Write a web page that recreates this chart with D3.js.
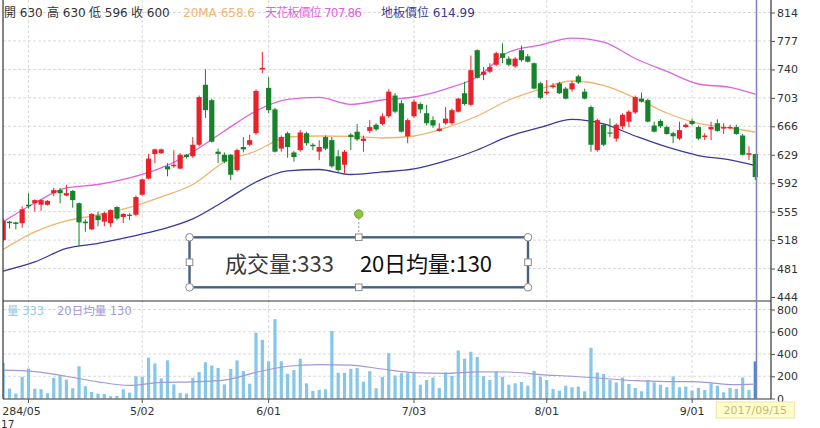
<!DOCTYPE html>
<html><head><meta charset="utf-8">
<script src="https://cdn.jsdelivr.net/npm/d3@7"></script>
<style>
body{margin:0;background:#fff;}
svg{display:block;font-family:"DejaVu Sans",Verdana,"Noto Sans CJK TC",sans-serif;}
</style>
</head><body>
<svg id="chart" width="820" height="428"></svg>
<script>
// ---------- DATA ----------
const dates = [
 "03/28","03/29","03/30","03/31",
 "04/05","04/06","04/07","04/10","04/11","04/12","04/13","04/14","04/17","04/18","04/19","04/20","04/21","04/24","04/25","04/26","04/27","04/28",
 "05/02","05/03","05/04","05/05","05/08","05/09","05/10","05/11","05/12","05/15","05/16","05/17","05/18","05/19","05/22","05/23","05/24","05/25","05/26","05/31",
 "06/01","06/02","06/03","06/05","06/06","06/07","06/08","06/09","06/12","06/13","06/14","06/15","06/16","06/19","06/20","06/21","06/22","06/23","06/26","06/27","06/28","06/29","06/30",
 "07/03","07/04","07/05","07/06","07/07","07/10","07/11","07/12","07/13","07/14","07/17","07/18","07/19","07/20","07/21","07/24","07/25","07/26","07/27","07/28","07/31",
 "08/01","08/02","08/03","08/04","08/07","08/08","08/09","08/10","08/11","08/14","08/15","08/16","08/17","08/18","08/21","08/22","08/23","08/24","08/25","08/28","08/29","08/30","08/31",
 "09/01","09/04","09/05","09/06","09/07","09/08","09/11","09/12","09/13","09/14","09/15"
];
const openP = [
 518,542,541,540,564,566,564,564,579,583, 576,582,566,542,532,550,542,540,561,548,
 551,551,577,598,630,631,614,614,611,629, 627,642,720,700,633,629,629,609,639,642,
 657,740,716,688,637,657,632,635,657,642, 633,652,648,627,616,655,659,647,660,668,
 669,679,706,696,653,679,695,683,674,660, 670,670,685,709,694,765,733,737,746,761,
 754,744,765,757,748,722,709,717,722,715, 714,731,711,691,635,668,658,650,666,672,
 684,702,700,667,673,665,657,650,665,673, 665,652,662,670,663,664,665,654,629,630];
const highP = [
 546,543,542,562,579,571,571,570,586,586, 590,583,567,545,553,555,555,558,562,553,
 553,576,598,630,637,637,618,635,631,630, 652,706,740,702,637,632,630,637,652,655,
 714,763,730,690,654,659,634,661,659,644, 648,654,652,635,635,657,669,654,674,670,
 683,714,709,700,676,701,697,694,679,670, 691,689,703,724,758,766,743,748,763,774,
 757,756,771,760,749,724,726,722,724,717, 725,733,715,693,676,670,676,670,683,687,
 706,710,702,672,675,667,659,672,670,676, 667,657,672,675,670,668,668,656,640,630];
const lowP = [
 516,533,532,534,559,555,556,563,575,566, 575,560,510,529,531,536,536,535,544,540,
 544,549,576,597,618,630,601,612,610,624, 625,640,677,645,618,618,596,607,632,640,
 655,735,683,632,633,625,620,633,641,635, 622,635,612,605,605,635,647,633,657,660,
 667,677,683,658,644,677,683,667,664,659, 668,668,684,693,692,728,726,735,744,748,
 744,742,750,749,714,701,707,715,708,701, 711,721,701,633,633,640,652,646,662,665,
 682,697,671,658,664,655,644,648,664,667, 648,648,648,659,656,662,655,628,622,596];
const closeP = [
 543,540,539,558,562,570,570,569,583,579, 579,570,541,540,552,544,553,557,546,552,
 550,574,597,624,636,636,610,616,629,626, 642,704,687,646,630,620,603,635,636,648,
 712,742,687,633,652,639,626,658,644,640, 639,637,614,609,633,652,649,650,665,662,
 679,711,685,659,674,698,688,670,667,663, 676,687,702,695,739,729,737,743,761,755,
 746,754,752,750,715,703,711,719,709,702, 722,723,702,642,674,642,657,668,681,685,
 704,698,672,659,666,656,653,661,668,669, 650,654,665,660,665,665,656,629,631,600];
const volume = [
 320,89,44,195,269,89,83,47,186,207, 169,92,290,110,59,44,41,21,24,83,
 53,201,195,367,314,181,343,127,50,44, 186,237,326,296,275,127,266,343,246,133,
 592,527,334,713,334,222,255,358,136,68, 77,83,607,231,231,266,275,151,246,92,
 195,408,207,228,228,228,124,166,189,95, 234,204,432,358,420,373,201,166,243,195,
 124,136,148,115,249,195,166,86,71,115, 101,107,65,456,234,219,166,145,189,130,
 95,65,166,145,124,101,198,101,107,71, 95,77,136,115,56,95,86,189,77,333];

// line series sampled at these trading-day positions
const lineIdx   = [0,5,10,15,20,25,30,35,40,45,50,55,60,65,70,75,80,85,90,95,100,105,110,115,119];
const ma20      = [505.8,528.6,542.9,550.7,560.4,574.1,590.3,619.6,633.9,652.1,653.4,652.8,650.8,653.4,663.8,679.4,700.2,714.5,724.9,719.1,702.8,683.3,669.7,663.8,658.6];
const upperBand = [542.0,566.3,585.8,590.3,598.8,611.8,632.6,659.9,685.9,700.9,703.5,694.4,700.2,704.1,714.5,730.1,762.6,771.7,780.8,775.6,754.2,737.3,721.0,716.7,707.86];
const lowerBand = [477.8,489.6,507.1,513.6,522.1,531.8,545.5,568.9,593.6,607.9,609.8,603.3,606.6,610.5,620.9,635.2,652.8,664.5,674.9,669.0,653.4,639.1,628.0,622.2,614.99];
const volMA     = [255,242,200,150,118,145,150,165,235,290,305,300,265,232,225,240,238,215,200,180,160,152,150,125,130];

const priceTicks = [444,481,518,555,592,629,666,703,740,777,814];
const volTicks = [0,200,400,600,800];
const dateTicks = ["04/05","05/02","06/01","07/03","08/01","09/01"];
const dateTickLabels = ["4/05","5/02","6/01","7/03","8/01","9/01"];
const firstLabelPieces = ["28","17"];
const ohlcNames = ["開","高","低","收"];
const legendMA = {label:"20MA", value:"658.6"};
const legendUp = {label:"天花板價位", value:"707.86"};
const legendDn = {label:"地板價位", value:"614.99"};
const volLegend = {vol:"量 333", ma:"20日均量 130"};
const noteTexts = ["成交量:333", "20日均量:130"];
const crossDate = "2017/09/15";

// ---------- LAYOUT ----------
const L = 3, R = 771, mainTop = 0, mainBot = 301, volBot = 399;
const svg = d3.select("#chart");
const x = d3.scalePoint().domain(dates).range([3.2, 755.3]);
const yP = d3.scaleLinear().domain([444, 814]).range([297, 12.5]);
const yV = d3.scaleLinear().domain([0, 800]).range([398.5, 309.5]);

const C = {up:"#e8212b", down:"#17822b", ma:"#f2b36f", upper:"#df62df", lower:"#3a3a98",
           grid:"#d9d9d9", vol:"#86c6e6", volLast:"#3f8ad4", volMA:"#a597d6", axis:"#333"};

const defs = svg.append("defs");
defs.append("clipPath").attr("id","clipMain").append("rect").attr("x",L).attr("y",mainTop).attr("width",R-L).attr("height",mainBot-mainTop);
defs.append("clipPath").attr("id","clipVol").append("rect").attr("x",L).attr("y",mainBot).attr("width",R-L).attr("height",volBot-mainBot);

// grid
const grid = svg.append("g");
grid.selectAll(".hg").data(priceTicks.slice(1)).join("line")
  .attr("x1",L).attr("x2",R).attr("y1",d=>yP(d)).attr("y2",d=>yP(d))
  .attr("stroke",C.grid).attr("stroke-dasharray","3,2");
grid.selectAll(".vg").data(volTicks.slice(1)).join("line")
  .attr("x1",L).attr("x2",R).attr("y1",d=>yV(d)).attr("y2",d=>yV(d))
  .attr("stroke",C.grid).attr("stroke-dasharray","3,2");
grid.selectAll(".dg").data(dateTicks).join("line")
  .attr("x1",d=>x(d)).attr("x2",d=>x(d)).attr("y1",mainTop).attr("y2",volBot)
  .attr("stroke",C.grid).attr("stroke-dasharray","3,2");

// lines
const linePts = arr => lineIdx.map((k,j)=>({d:dates[k], v:arr[j]}));
const mainG = svg.append("g").attr("clip-path","url(#clipMain)");
const lineP = d3.line().x(p=>x(p.d)).y(p=>yP(p.v)).curve(d3.curveMonotoneX);
[[upperBand,C.upper],[ma20,C.ma],[lowerBand,C.lower]].forEach(([arr,col])=>{
  mainG.append("path").datum(linePts(arr)).attr("d",lineP)
    .attr("fill","none").attr("stroke",col).attr("stroke-width",1.3);
});

// candles
const rows = dates.map((d,i)=>({d,o:openP[i],h:highP[i],l:lowP[i],c:closeP[i],v:volume[i],i}));
const colOf = r => r.c >= r.o ? C.up : C.down;
const cg = mainG.selectAll(".candle").data(rows).join("g");
cg.append("line").attr("x1",r=>x(r.d)).attr("x2",r=>x(r.d))
  .attr("y1",r=>yP(r.h)).attr("y2",r=>yP(r.l)).attr("stroke",colOf).attr("stroke-width",1);
cg.append("rect").attr("x",r=>x(r.d)-2.6).attr("width",5.2)
  .attr("y",r=>yP(Math.max(r.o,r.c)))
  .attr("height",r=>Math.max(1.2, Math.abs(yP(r.o)-yP(r.c))))
  .attr("fill",colOf);

// volume
const volG = svg.append("g").attr("clip-path","url(#clipVol)");
volG.selectAll(".vb").data(rows).join("rect")
  .attr("x",r=>x(r.d)-1.6).attr("width",3.2)
  .attr("y",r=>yV(r.v)).attr("height",r=>yV(0)-yV(r.v))
  .attr("fill",r=>r.i===rows.length-1?C.volLast:C.vol);
volG.append("path").datum(linePts(volMA))
  .attr("d",d3.line().x(p=>x(p.d)).y(p=>yV(p.v)).curve(d3.curveMonotoneX))
  .attr("fill","none").attr("stroke",C.volMA).attr("stroke-width",1.2);

// frame
const fr = svg.append("g").attr("stroke","#333").attr("stroke-width",1.2);
fr.append("line").attr("x1",L).attr("x2",L).attr("y1",mainTop).attr("y2",volBot);
fr.append("line").attr("x1",L).attr("x2",R).attr("y1",mainBot).attr("y2",mainBot);
fr.append("line").attr("x1",L).attr("x2",R).attr("y1",volBot).attr("y2",volBot);
fr.append("line").attr("x1",R).attr("x2",R).attr("y1",mainTop).attr("y2",volBot);

// right axes
const styleAxis = g => {
  g.select(".domain").remove();
  g.selectAll(".tick line").attr("stroke","#555");
  g.selectAll(".tick text").attr("fill","#333").attr("font-size","11px")
    .attr("font-family","'DejaVu Sans',Verdana,sans-serif");
};
svg.append("g").attr("transform",`translate(${R},0)`)
  .call(d3.axisRight(yP).tickValues(priceTicks).tickSize(4).tickPadding(2)).call(styleAxis);
svg.append("g").attr("transform",`translate(${R},0)`)
  .call(d3.axisRight(yV).tickValues(volTicks).tickSize(4).tickPadding(2)).call(styleAxis);

// bottom axis
const bx = svg.append("g").attr("font-size","11px").attr("fill","#333");
bx.selectAll(".dt").data(dateTicks).join("line")
  .attr("x1",d=>x(d)).attr("x2",d=>x(d)).attr("y1",volBot).attr("y2",volBot+4).attr("stroke","#555");
bx.selectAll(".dl").data(dateTicks).join("text")
  .attr("x",d=>x(d)).attr("y",414.5).attr("text-anchor","middle")
  .text((d,i)=>dateTickLabels[i]);
bx.append("text").attr("x",x(dateTicks[0])-12.3).attr("y",414.5).attr("text-anchor","end").text(firstLabelPieces[0]);
bx.append("text").attr("x",1).attr("y",427.5).attr("font-size","10.5px").text(firstLabelPieces[1]);

// crosshair
const lastD = dates[dates.length-1];
svg.append("line").attr("x1",x(lastD)+1.2).attr("x2",x(lastD)+1.2).attr("y1",0).attr("y2",volBot)
  .attr("stroke","#8585b5").attr("stroke-width",1.6);
svg.append("rect").attr("x",x(lastD)-39).attr("y",402).attr("width",78).attr("height",16)
  .attr("fill","#ffffcc").attr("stroke","#ebe3a6");
svg.append("text").attr("x",x(lastD)).attr("y",414).attr("text-anchor","middle")
  .attr("font-size","11px").attr("fill","#c9b678").text(crossDate);

// top legend
const last = rows[rows.length-1];
const ohlcVals = [last.o,last.h,last.l,last.c];
const lg = svg.append("g").attr("font-size","12px");
const ohlcX = [4,47,89,131];
ohlcNames.forEach((n,i)=>{
  lg.append("text").attr("x",ohlcX[i]).attr("y",17).attr("fill","#333").text(`${n} ${ohlcVals[i]}`);
});
lg.append("text").attr("x",183).attr("y",17).attr("fill",C.ma).text(`${legendMA.label} ${legendMA.value}`);
lg.append("text").attr("x",265).attr("y",17).attr("fill",C.upper).attr("textLength",97).text(`${legendUp.label} ${legendUp.value}`);
lg.append("text").attr("x",381).attr("y",17).attr("fill",C.lower).text(`${legendDn.label} ${legendDn.value}`);

// volume legend
const vl = svg.append("g").attr("font-size","11.5px");
vl.append("text").attr("x",7).attr("y",315).attr("fill","#8fcbe8").text(volLegend.vol);
vl.append("text").attr("x",57).attr("y",315).attr("fill",C.volMA).text(volLegend.ma);

// annotation box
const bx0 = 189.5, bx1 = 528, by0 = 237.3, by1 = 287.3, bmx = (bx0+bx1)/2, bmy = (by0+by1)/2;
const ann = svg.append("g");
ann.append("line").attr("x1",bmx).attr("x2",bmx).attr("y1",218).attr("y2",by0-3)
  .attr("stroke","#999").attr("stroke-dasharray","2,2");
ann.append("rect").attr("x",bx0).attr("y",by0).attr("width",bx1-bx0).attr("height",by1-by0)
  .attr("fill","#fff").attr("stroke","#46627e").attr("stroke-width",2.4);
ann.append("text").attr("x",225).attr("y",272).attr("font-size","22px")
  .attr("font-family","'Noto Sans CJK TC',sans-serif").attr("fill","#3a3a3a")
  .attr("textLength",109).text(noteTexts[0]);
ann.append("text").attr("x",360).attr("y",272).attr("font-size","22px")
  .attr("font-family","'Noto Sans CJK TC',sans-serif").attr("fill","#111")
  .attr("textLength",132).text(noteTexts[1]);
[[bx0,by0],[bx1,by0],[bx0,by1],[bx1,by1]].forEach(([cx,cy])=>{
  ann.append("circle").attr("cx",cx).attr("cy",cy).attr("r",3.8).attr("fill","#fff").attr("stroke","#8a8a8a");
});
[[bmx,by0],[bmx,by1],[bx0,bmy],[bx1,bmy]].forEach(([cx,cy])=>{
  ann.append("rect").attr("x",cx-3.3).attr("y",cy-3.3).attr("width",6.6).attr("height",6.6)
    .attr("fill","#fff").attr("stroke","#8a8a8a");
});
ann.append("circle").attr("cx",bmx).attr("cy",214).attr("r",4.2).attr("fill","#8cc63e").attr("stroke","#6f9f35");
</script>
</body></html>
